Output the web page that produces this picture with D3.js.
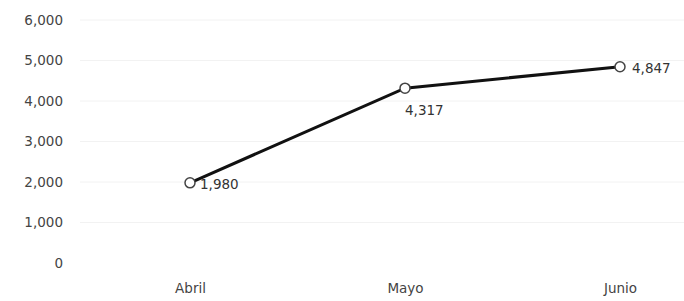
<!DOCTYPE html>
<html>
<head>
<meta charset="utf-8">
<script src="https://cdn.jsdelivr.net/npm/d3@7"></script>
<style>
  body { margin: 0; background: #fff; }
  text { font-family: "DejaVu Sans", sans-serif; }
</style>
</head>
<body>
<svg id="chart"></svg>
<script>
var meses = ["Abril", "Mayo", "Junio"];
var ventas = [1980, 4317, 4847];
var yTicks = [0, 1000, 2000, 3000, 4000, 5000, 6000];

var width = 684, height = 301;
var svg = d3.select("#chart").attr("width", width).attr("height", height);

var x = d3.scalePoint().domain(meses).range([190, 620]);
var y = d3.scaleLinear().domain([0, 6000]).range([263, 20]);
var fmt = d3.format(",");

// faint gridlines
svg.append("g").selectAll("line")
    .data(yTicks.filter(function (d) { return d > 0; }))
    .enter().append("line")
    .attr("x1", 80).attr("x2", width)
    .attr("y1", function (d) { return y(d); })
    .attr("y2", function (d) { return y(d); })
    .style("stroke", "#f2f2f2")
    .style("stroke-width", 1);

var yAxis = svg.append("g")
    .attr("transform", "translate(63,0)")
    .call(d3.axisLeft(y).tickValues(yTicks).tickFormat(fmt).tickSize(0).tickPadding(0));
yAxis.select(".domain").remove();
yAxis.selectAll("text").style("font-size", "13.5px").style("fill", "#444");

var xAxis = svg.append("g")
    .attr("transform", "translate(0,283)")
    .call(d3.axisBottom(x).tickSize(0).tickPadding(0));
xAxis.select(".domain").remove();
xAxis.selectAll("text").style("font-size", "13.5px").style("fill", "#444");

var line = d3.line()
    .x(function (d, i) { return x(meses[i]); })
    .y(function (d) { return y(d); });

svg.append("path")
    .datum(ventas)
    .attr("d", line)
    .style("fill", "none")
    .style("stroke", "#111")
    .style("stroke-width", 3);

svg.selectAll(".punto")
    .data(ventas)
    .enter().append("circle")
    .attr("class", "punto")
    .attr("cx", function (d, i) { return x(meses[i]); })
    .attr("cy", function (d) { return y(d); })
    .attr("r", 5)
    .style("fill", "#fff")
    .style("stroke", "#444")
    .style("stroke-width", 1.5);

// data labels: right, below-right, right
var dx = [10, 0, 12];
var dy = [6, 27, 6];
svg.selectAll(".etiqueta")
    .data(ventas)
    .enter().append("text")
    .attr("class", "etiqueta")
    .attr("x", function (d, i) { return x(meses[i]) + dx[i]; })
    .attr("y", function (d, i) { return y(d) + dy[i]; })
    .style("font-size", "13.5px")
    .style("fill", "#333")
    .text(function (d) { return fmt(d); });
</script>
</body>
</html>
